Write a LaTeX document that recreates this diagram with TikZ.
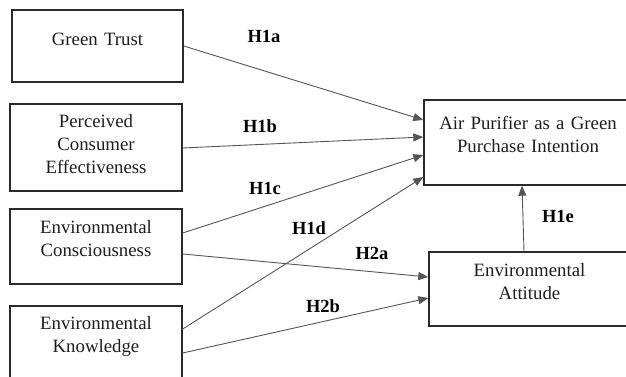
\documentclass[tikz,border=0pt]{standalone}
\usepackage{fontspec}
\setmainfont{Liberation Serif}
\usetikzlibrary{arrows.meta}
\definecolor{boxline}{HTML}{2A2A2A}
\definecolor{arrline}{HTML}{555555}
\definecolor{txt}{HTML}{1E1E1E}
\begin{document}
\begin{tikzpicture}[x=1pt,y=1pt,
  box/.style={draw=boxline, line width=1.4pt, rectangle, inner sep=0pt},
  boxtext/.style={anchor=base, inner sep=0pt, align=center, text=txt,
    font=\fontsize{18.8}{23.2}\selectfont},
  hyp/.style={anchor=base, inner sep=0pt, text=black,
    font=\fontsize{18.5}{22}\selectfont\bfseries},
  conn/.style={draw=arrline, line width=0.9pt,
    -{Triangle[length=10pt,width=8pt]}, shorten >=0pt}]
\useasboundingbox (0,0) rectangle (626,377);
\clip (0,0) rectangle (626,377);
% boxes
\node[box, minimum width=171pt, minimum height=72pt] (gt) at (97.5,331) {};
\node[box, minimum width=172pt, minimum height=87pt] (pce) at (96,229.5) {};
\node[box, minimum width=172pt, minimum height=75pt] (ec) at (96,130.5) {};
\node[box, minimum width=172pt, minimum height=94pt] (ek) at (96,24) {};
\node[box, minimum width=208pt, minimum height=85pt] (ap) at (528,234.5) {};
\node[box, minimum width=201pt, minimum height=74pt] (ea) at (529.5,88) {};
% texts
\node[boxtext, text width=171pt] (gtt) at ([yshift=-36pt]gt.north) {Green Trust};
\node[boxtext, text width=172pt] (pcet) at ([yshift=-24pt]pce.north) {Perceived\\Consumer\\Effectiveness};
\node[boxtext, text width=172pt] (ect) at ([yshift=-25pt]ec.north) {Environmental\\Consciousness};
\node[boxtext, text width=172pt] (ekt) at ([yshift=-24pt]ek.north) {Environmental\\Knowledge};
\node[boxtext, text width=208pt] (apt) at ([yshift=-30pt]ap.north) {Air Purifier as a Green\\Purchase Intention};
\node[boxtext, text width=201pt] (eat) at ([yshift=-25pt]ea.north) {Environmental\\Attitude};
% connectors
\draw[conn] (gt.east) -- ([yshift=22.5pt]ap.west);
\draw[conn] ([yshift=-0.5pt]pce.east) -- ([yshift=5.5pt]ap.west);
\draw[conn] ([yshift=13.5pt]ec.east) -- ([yshift=-12.5pt]ap.west);
\draw[conn] ([yshift=24pt]ek.east) -- ([yshift=-34.5pt]ap.west);
\draw[conn] ([yshift=-7.5pt]ec.east) -- ([yshift=12pt]ea.west);
\draw[conn] (ek.east) -- ([yshift=-9pt]ea.west);
\draw[conn] ([xshift=-5.5pt]ea.north) -- ([xshift=-6pt]ap.south);
% hypothesis labels
\node[hyp] (h1a) at (264,334) {H1a};
\node[hyp] (h1b) at (260,244) {H1b};
\node[hyp] (h1c) at (265,182) {H1c};
\node[hyp] (h1d) at (309,142) {H1d};
\node[hyp] (h2a) at (372,117) {H2a};
\node[hyp] (h2b) at (323,64) {H2b};
\node[hyp] (h1e) at (558,154) {H1e};
\end{tikzpicture}
\end{document}
